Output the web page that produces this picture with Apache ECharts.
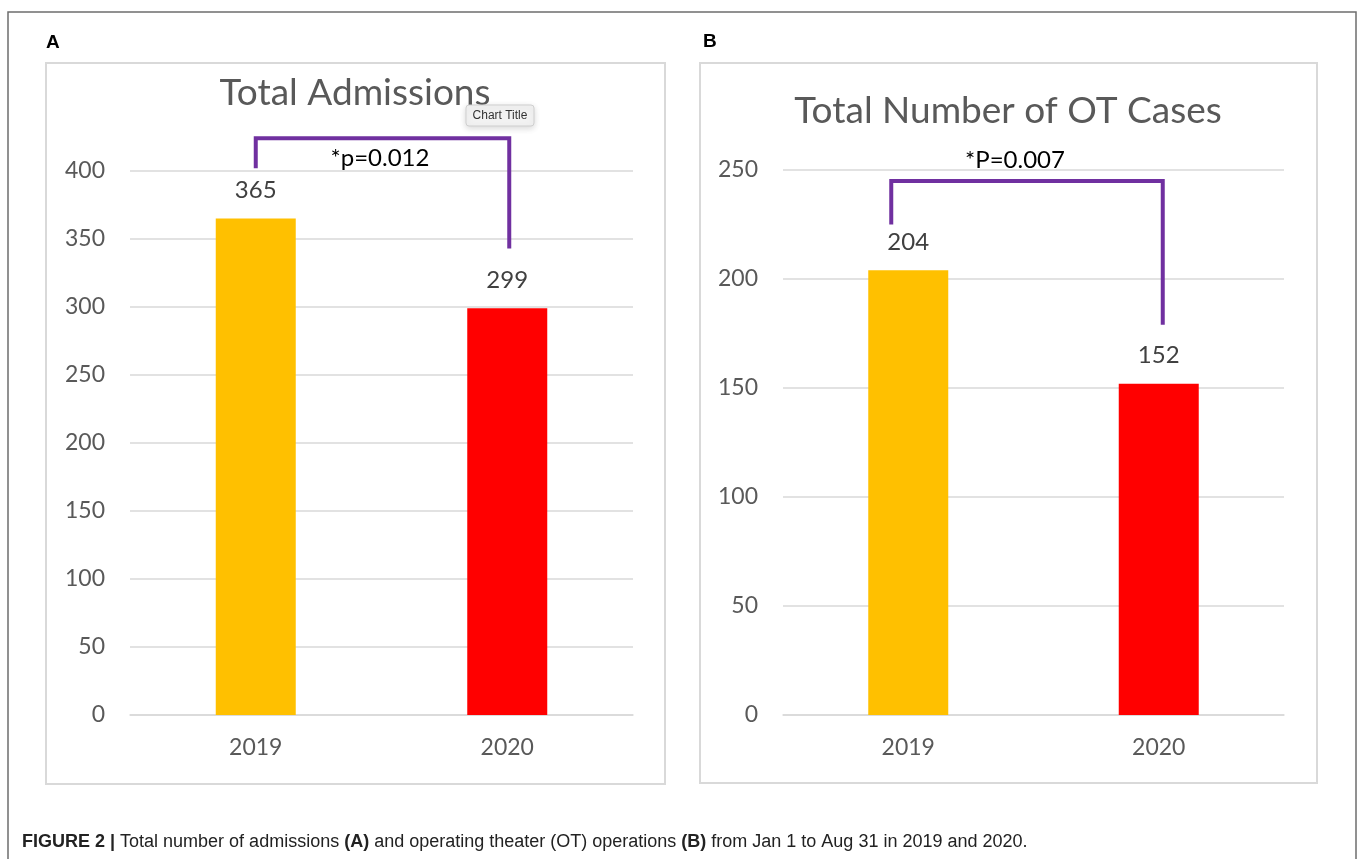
<!DOCTYPE html>
<html>
<head>
<meta charset="utf-8">
<script src="https://cdn.jsdelivr.net/npm/echarts@6/dist/echarts.min.js"></script>
<style>
  html, body { margin: 0; padding: 0; background: #fff; }
  #main { width: 1360px; height: 859px; }
</style>
</head>
<body>
<div id="main"></div>
<script>
// data
var years = ['2019', '2020'];
var admissions = [365, 299];
var otCases = [204, 152];
var barColors = ['#FFC000', '#FF0000'];
// significance brackets: [left leg bottom, top, right leg bottom] in axis values
var bracketA = [402, 424, 343];
var bracketB = [225, 245, 179];
var pTextA = '*p=0.012';
var pTextB = '*P=0.007';

var font = 'Lato, "Open Sans", sans-serif';
var gray = '#595959';
var gridColor = '#D9D9D9';

var chart = echarts.init(document.getElementById('main'));

function xAx(idx) {
    return {
        type: 'category', gridIndex: idx, data: years,
        axisLine: {lineStyle: {color: gridColor, width: 1.5}},
        axisTick: {show: false},
        axisLabel: {color: gray, fontSize: 23, fontFamily: font, margin: 21}
    };
}
function yAx(idx, max) {
    return {
        type: 'value', gridIndex: idx, min: 0, max: max, interval: 50,
        axisLine: {show: false}, axisTick: {show: false},
        axisLabel: {color: gray, fontSize: 23, fontFamily: font, margin: 25},
        splitLine: {lineStyle: {color: gridColor, width: 1.5}}
    };
}
function barSeries(idx, values) {
    return {
        type: 'bar', xAxisIndex: idx, yAxisIndex: idx, barWidth: 80,
        data: values.map(function (v, i) {
            return {value: v, itemStyle: {color: barColors[i]}};
        }),
        label: {show: true, position: 'top', distance: 16, color: '#404040', fontSize: 24, fontFamily: font}
    };
}

var option = {
    animation: false,
    backgroundColor: '#fff',
    grid: [
        {left: 130, top: 171, width: 503, height: 544},
        {left: 783, top: 170, width: 501, height: 545}
    ],
    xAxis: [xAx(0), xAx(1)],
    yAxis: [yAx(0, 400), yAx(1, 250)],
    series: [barSeries(0, admissions), barSeries(1, otCases)]
};
chart.setOption(option);

// bracket drawn from the axis scales
function bracket(gi, b, dxL, dxR) {
    var pL = chart.convertToPixel({gridIndex: gi}, [0, b[0]]);
    var pT = chart.convertToPixel({gridIndex: gi}, [0, b[1]]);
    var pR = chart.convertToPixel({gridIndex: gi}, [1, b[2]]);
    var xl = pL[0] + dxL, xr = pR[0] + dxR;
    return {
        type: 'polyline', z: 10,
        shape: {points: [[xl, pL[1]], [xl, pT[1]], [xr, pT[1]], [xr, pR[1]]]},
        style: {stroke: '#7030A0', lineWidth: 4, fill: null}
    };
}

var g = [
    // outer figure frame (open at bottom)
    {type: 'polyline', shape: {points: [[8, 859], [8, 12], [1356, 12], [1356, 859]]},
        style: {stroke: '#6E6E6E', lineWidth: 1.5, fill: null}},
    // chart area boxes
    {type: 'rect', shape: {x: 46, y: 63, width: 619, height: 721},
        style: {stroke: gridColor, lineWidth: 2, fill: null}},
    {type: 'rect', shape: {x: 700, y: 63, width: 617, height: 720},
        style: {stroke: gridColor, lineWidth: 2, fill: null}},
    // panel letters
    {type: 'text', x: 46, y: 43, style: {text: 'A', fill: '#000', font: 'bold 19px "Liberation Sans", Arial', textVerticalAlign: 'middle'}},
    {type: 'text', x: 703, y: 42, style: {text: 'B', fill: '#000', font: 'bold 19px "Liberation Sans", Arial', textVerticalAlign: 'middle'}},
    // chart titles
    {type: 'text', x: 355, y: 93, style: {text: 'Total Admissions', fill: gray, font: '37px ' + font, textAlign: 'center', textVerticalAlign: 'middle'}},
    {type: 'text', x: 1008, y: 111, style: {text: 'Total Number of OT Cases', fill: gray, font: '37px ' + font, textAlign: 'center', textVerticalAlign: 'middle'}},
    // brackets and p-values
    bracket(0, bracketA, 0, 2),
    bracket(1, bracketB, -17, 4),
    {type: 'text', x: 380, y: 158, z: 11, style: {text: pTextA, fill: '#000', font: '24px ' + font, textAlign: 'center', textVerticalAlign: 'middle'}},
    {type: 'text', x: 1015, y: 160, z: 11, style: {text: pTextB, fill: '#000', font: '24px ' + font, textAlign: 'center', textVerticalAlign: 'middle'}},
    // "Chart Title" hover tooltip captured in the screenshot
    {type: 'rect', z: 20, shape: {x: 466, y: 105, width: 68, height: 21, r: 3},
        style: {fill: '#F2F2F2', stroke: '#CFCFCF', lineWidth: 1, shadowBlur: 6, shadowColor: 'rgba(0,0,0,0.15)', shadowOffsetY: 2}},
    {type: 'text', z: 21, x: 500, y: 116, style: {text: 'Chart Title', fill: '#333', font: '12px "Liberation Sans", Arial', textAlign: 'center', textVerticalAlign: 'middle'}},
    // caption
    {type: 'text', x: 22, y: 842, style: {
        rich: {
            b: {font: 'bold 18px "Liberation Sans", Arial', fill: '#222'},
            n: {font: '18px "Liberation Sans", Arial', fill: '#222'}
        },
        text: '{b|FIGURE 2 | }{n|Total number of admissions }{b|(A)}{n| and operating theater (OT) operations }{b|(B)}{n| from Jan 1 to Aug 31 in 2019 and 2020.}',
        textVerticalAlign: 'middle'
    }}
];
chart.setOption({graphic: g});
</script>
</body>
</html>
